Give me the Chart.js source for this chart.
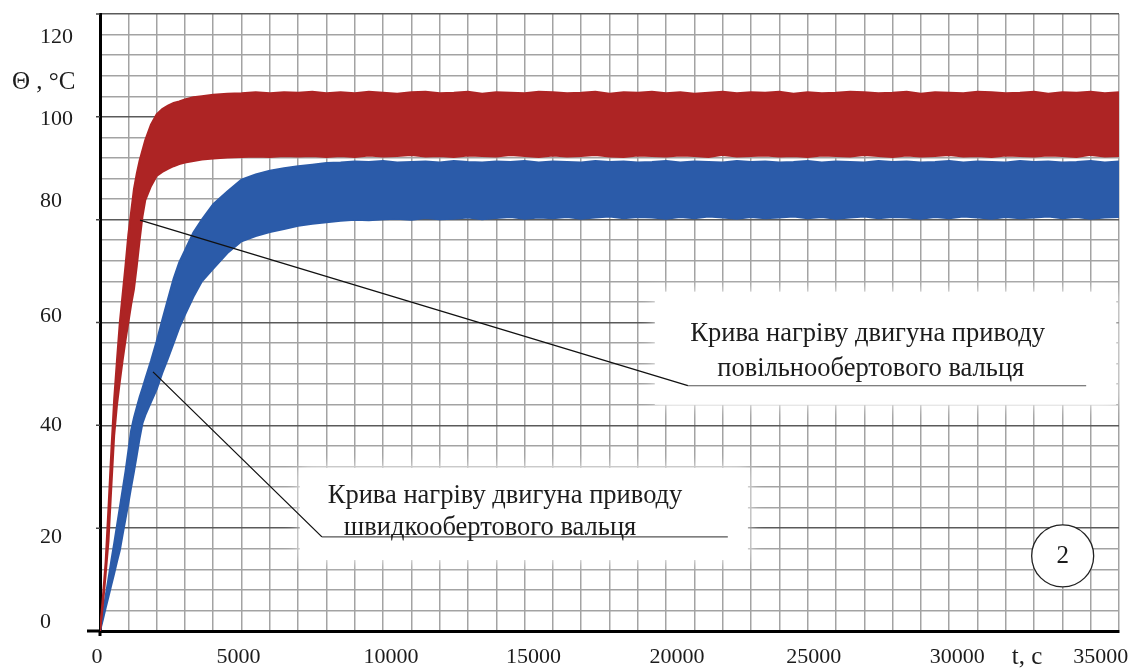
<!DOCTYPE html>
<html><head><meta charset="utf-8">
<script src="https://cdn.jsdelivr.net/npm/chart.js@4.4.1/dist/chart.umd.min.js"></script>
<style>html,body{margin:0;padding:0;background:#fff;}</style>
</head><body>
<canvas id="c" width="1134" height="671"></canvas>
<script>
// ---- data ----
const times = [
  0,100,200,300,400,500,600,700,800,900,1000,1100,1200,1300,1400,1500,1600,
  1800,2000,2200,2400,2600,2800,3000,
  3300,3600,4000,4500,5000,5500,6000,6500,7000,7500,8000,
  8500,9000,9500,10000,10500,11000,11500,12000,
  12500,13000,13500,14000,14500,15000,15500,16000,
  16500,17000,17500,18000,18500,19000,19500,20000,
  20500,21000,21500,22000,22500,23000,23500,24000,
  24500,25000,25500,26000,26500,27000,27500,28000,
  28500,29000,29500,30000,30500,31000,31500,32000,
  32500,33000,33500,34000,34500,35000,35500,36000
];
const redUpper = [
  0,6.5,13.5,24,35,45,52.7,60,65.5,71,77,81.5,86,89,91.5,93.5,95.5,
  98.5,100.5,101.5,102.2,102.7,103,103.4,
  103.8,104,104.3,104.5,104.6,104.8,104.6,104.8,104.7,104.9,104.6,
  104.8,104.6,104.9,104.7,104.5,104.8,104.9,104.6,
  104.7,104.9,104.5,104.8,104.7,104.6,104.9,104.8,
  104.6,104.7,104.9,104.5,104.8,104.7,104.9,104.6,
  104.8,104.5,104.7,104.9,104.6,104.8,104.7,104.9,
  104.5,104.8,104.6,104.7,104.9,104.8,104.6,104.7,
  104.9,104.5,104.8,104.7,104.6,104.9,104.8,104.6,
  104.7,104.9,104.5,104.8,104.7,104.9,104.6,104.8
];
const redLower = [
  0,5,11,17.5,28,38,44,48.5,52.7,56.5,60,63.5,66.5,71,76,80.6,83.8,
  86.5,88.5,89.3,89.9,90.4,90.8,91.1,
  91.4,91.7,91.9,92.1,92.2,92.3,92.2,92.4,92.3,92.4,92.2,
  92.4,92.2,92.5,92.3,92.4,92.6,92.3,92.4,
  92.2,92.5,92.4,92.3,92.6,92.4,92.2,92.5,
  92.3,92.4,92.6,92.3,92.2,92.5,92.4,92.3,
  92.5,92.4,92.2,92.6,92.3,92.4,92.5,92.3,
  92.4,92.2,92.5,92.4,92.3,92.6,92.4,92.2,
  92.5,92.3,92.4,92.6,92.3,92.4,92.2,92.5,
  92.4,92.3,92.5,92.4,92.2,92.6,92.3,92.4
];
const blueUpper = [
  0,3.4,6.8,10.2,13.7,17,20.5,24,27.5,31,35,39,41.5,43.5,45.5,47.2,49,
  52.5,56.3,60.5,64.5,68.5,71.7,74,
  77.5,80,83,85.5,87.8,88.8,89.5,90,90.4,90.7,91,
  91.1,91.3,91.2,91.4,91.1,91.2,91.3,91.1,
  91.4,91.2,91.1,91.3,91.2,91.4,91.1,91.3,
  91.2,91.1,91.4,91.2,91.3,91.1,91.2,91.4,
  91.1,91.3,91.2,91.1,91.4,91.2,91.3,91.1,
  91.2,91.4,91.1,91.3,91.2,91.1,91.4,91.2,
  91.3,91.1,91.2,91.4,91.1,91.3,91.2,91.1,
  91.4,91.2,91.3,91.1,91.2,91.4,91.1,91.3
];
const blueLower = [
  0,2.2,4.5,6.7,9,11.2,13.5,15.7,18.8,21.8,24.8,28,31,34.2,37.5,40.4,42,
  44.5,47,50.2,53,56,59,61.5,
  65,68,70.5,73.5,75.8,76.8,77.6,78.2,78.8,79.2,79.5,
  79.8,80,79.9,80.1,80.2,80,80.3,80.1,
  80.2,80.4,80.1,80.3,80.5,80.2,80.4,80.3,
  80.5,80.2,80.4,80.6,80.3,80.5,80.4,80.2,
  80.5,80.3,80.6,80.4,80.2,80.5,80.3,80.4,
  80.6,80.3,80.5,80.2,80.4,80.6,80.3,80.5,
  80.4,80.2,80.5,80.3,80.6,80.4,80.2,80.5,
  80.3,80.4,80.6,80.3,80.5,80.2,80.4,80.5
];
const xTickLabels = [0,5000,10000,15000,20000,25000,30000,35000];
const yTickLabels = [0,20,40,60,80,100,120];
const xAxisTitle = 't, c';
const yAxisTitle = 'Θ , °C';
const callout1Text = ['Крива нагріву двигуна приводу', 'повільнообертового вальця'];
const callout2Text = ['Крива нагріву двигуна приводу', 'швидкообертового вальця'];
const panelMark = '2';

// ---- styles / layout ----
const RED = '#ad2424';
const BLUE = '#2b5ba9';
const SERIF = '"Liberation Serif", "Times New Roman", serif';
const FONT = '22px ' + SERIF;
const TITLE_FONT = '25px ' + SERIF;
const NOTE_FONT = '26.5px ' + SERIF;
const TEXT = '#1c1c1c';
const xLabelShift = {0:-3,5000:-3,10000:8,15000:9,20000:11,25000:6,30000:8,35000:10};
const yLabelShift = {0:-9,20:9,40:0,60:-6,80:-18,100:2,120:23};

const pts = arr => times.map((t, i) => ({x: t, y: arr[i]}));

const decor = {
  id: 'decor',
  afterDatasetsDraw(chart) {
    const ctx = chart.ctx, xs = chart.scales.x, ys = chart.scales.y;
    const X = v => xs.getPixelForValue(v), Y = v => ys.getPixelForValue(v);
    ctx.save();
    // white label boxes
    ctx.fillStyle = '#fff';
    ctx.shadowColor = '#fff';
    ctx.shadowBlur = 14;
    const box = (t0, t1, v0, v1) => {
      ctx.fillRect(X(t0), Y(v0), X(t1) - X(t0), Y(v1) - Y(v0));
    };
    box(19600, 35900, 66, 44);
    box(7060, 22890, 31.7, 13.8);
    ctx.shadowBlur = 0;
    // leader lines
    ctx.strokeStyle = '#111';
    ctx.lineWidth = 1.3;
    ctx.beginPath();
    ctx.moveTo(X(1414), Y(79.9)); ctx.lineTo(X(20770), Y(47.7));
    ctx.moveTo(X(1872), Y(50.4)); ctx.lineTo(X(7840), Y(18.3));
    ctx.stroke();
    ctx.strokeStyle = '#555';
    ctx.lineWidth = 1.2;
    ctx.beginPath();
    ctx.moveTo(X(20770), Y(47.7)); ctx.lineTo(X(34840), Y(47.7));
    ctx.moveTo(X(7840), Y(18.3)); ctx.lineTo(X(22180), Y(18.3));
    ctx.stroke();
    // callout texts
    ctx.fillStyle = TEXT;
    ctx.font = NOTE_FONT;
    ctx.textAlign = 'center';
    ctx.textBaseline = 'middle';
    ctx.fillText(callout1Text[0], X(27120), Y(57.8));
    ctx.fillText(callout1Text[1], X(27230), Y(51.0));
    ctx.fillText(callout2Text[0], X(14310), Y(26.3));
    ctx.fillText(callout2Text[1], X(13780), Y(20.0));
    // circled mark
    ctx.beginPath();
    ctx.arc(X(34010), Y(14.6), 31, 0, Math.PI * 2);
    ctx.fillStyle = '#fff';
    ctx.fill();
    ctx.strokeStyle = '#222';
    ctx.lineWidth = 1.3;
    ctx.stroke();
    ctx.fillStyle = TEXT;
    ctx.font = TITLE_FONT;
    ctx.fillText(panelMark, X(34010), Y(14.6) + 1);
    ctx.restore();
  },
  afterDraw(chart) {
    const ctx = chart.ctx, xs = chart.scales.x, ys = chart.scales.y;
    const X = v => xs.getPixelForValue(v), Y = v => ys.getPixelForValue(v);
    ctx.save();
    // axis extensions and major ticks
    ctx.strokeStyle = '#000';
    ctx.lineWidth = 3;
    ctx.beginPath();
    ctx.moveTo(X(0) - 13, Y(0)); ctx.lineTo(X(0), Y(0));
    ctx.moveTo(X(0), Y(0)); ctx.lineTo(X(0), Y(0) + 5);
    ctx.stroke();
    ctx.lineWidth = 1.5;
    ctx.strokeStyle = '#444';
    ctx.beginPath();
    yTickLabels.forEach(v => { if (v > 0) { ctx.moveTo(X(0) - 4, Y(v)); ctx.lineTo(X(0), Y(v)); } });
    ctx.stroke();
    // tick labels
    ctx.fillStyle = TEXT;
    ctx.font = FONT;
    ctx.textBaseline = 'middle';
    ctx.textAlign = 'left';
    yTickLabels.forEach(v => ctx.fillText(String(v), 40, Y(v) + (yLabelShift[v] || 0)));
    ctx.textAlign = 'center';
    xTickLabels.forEach(v => ctx.fillText(String(v), X(v) + (xLabelShift[v] || 0), 657));
    ctx.font = TITLE_FONT;
    ctx.fillText(xAxisTitle, 1027, 657);
    ctx.textAlign = 'left';
    ctx.fillText(yAxisTitle, 12, 82);
    ctx.restore();
  }
};

new Chart(document.getElementById('c'), {
  type: 'line',
  data: {
    datasets: [
      {data: pts(redUpper), borderColor: RED, backgroundColor: RED, borderWidth: 2, fill: '+1'},
      {data: pts(redLower), borderColor: RED, backgroundColor: RED, borderWidth: 2, fill: false},
      {data: pts(blueUpper), borderColor: BLUE, backgroundColor: BLUE, borderWidth: 2, fill: '+1'},
      {data: pts(blueLower), borderColor: BLUE, backgroundColor: BLUE, borderWidth: 2, fill: false}
    ]
  },
  options: {
    responsive: false,
    animation: false,
    devicePixelRatio: 1,
    layout: {padding: {top: 14, right: 15, left: 0, bottom: 0}},
    plugins: {legend: {display: false}, tooltip: {enabled: false}},
    elements: {point: {radius: 0}, line: {tension: 0}},
    scales: {
      x: {
        type: 'linear', min: 0, max: 36000,
        afterFit(s) { s.height = 40; },
        ticks: {display: false, stepSize: 1000, autoSkip: false},
        grid: {color: '#a3a3a3', lineWidth: 1.5, drawTicks: false},
        border: {display: true, color: '#000', width: 3}
      },
      y: {
        type: 'linear', min: 0, max: 120,
        afterFit(s) { s.width = 100; },
        ticks: {display: false, stepSize: 4},
        grid: {color: c => (c.tick && c.tick.value % 20 === 0) ? '#5a5a5a' : '#a3a3a3', lineWidth: 1.5, drawTicks: false},
        border: {display: true, color: '#000', width: 3}
      }
    }
  },
  plugins: [decor]
});
</script>
</body></html>
